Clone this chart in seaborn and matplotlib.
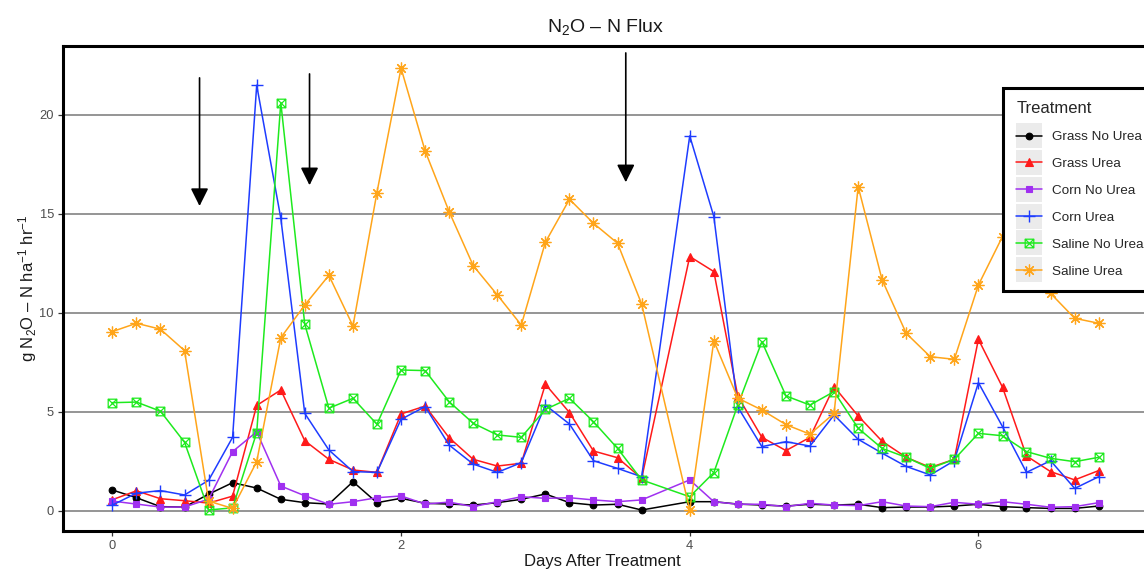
import matplotlib
matplotlib.use("Agg")
import matplotlib.pyplot as plt
import seaborn as sns
import numpy as np
from matplotlib.path import Path
from matplotlib.legend_handler import HandlerLine2D
from matplotlib.patches import Rectangle

# ---------------- data ----------------
days = [0.0, 0.167, 0.333, 0.5, 0.667, 0.833, 1.0, 1.167, 1.333, 1.5, 1.667, 1.833,
        2.0, 2.167, 2.333, 2.5, 2.667, 2.833, 3.0, 3.167, 3.333, 3.5, 3.667,
        4.0, 4.167, 4.333, 4.5, 4.667, 4.833, 5.0, 5.167, 5.333, 5.5, 5.667, 5.833,
        6.0, 6.167, 6.333, 6.5, 6.667, 6.833]

grass_no_urea = [1.06, 0.67, 0.22, 0.20, 0.85, 1.43, 1.16, 0.59, 0.42, 0.35, 1.48, 0.42,
                 0.64, 0.39, 0.35, 0.30, 0.42, 0.59, 0.86, 0.42, 0.30, 0.34, 0.05,
                 0.47, 0.47, 0.35, 0.30, 0.25, 0.34, 0.30, 0.34, 0.17, 0.20, 0.20, 0.25,
                 0.34, 0.22, 0.17, 0.13, 0.13, 0.25]
grass_urea = [0.57, 1.02, 0.62, 0.52, 0.40, 0.75, 5.33, 6.11, 3.55, 2.61, 2.07, 1.95,
              4.90, 5.30, 3.70, 2.61, 2.27, 2.41, 6.40, 4.97, 3.03, 2.69, 1.65,
              12.85, 12.09, 5.80, 3.72, 3.05, 3.72, 6.28, 4.80, 3.52, 2.71, 2.20, 2.61,
              8.67, 6.25, 2.78, 1.99, 1.57, 2.04]
corn_no_urea = [0.50, 0.35, 0.20, 0.20, 0.60, 3.00, 4.00, 1.26, 0.77, 0.34, 0.47, 0.67,
                0.76, 0.35, 0.45, 0.22, 0.47, 0.72, 0.64, 0.67, 0.56, 0.47, 0.56,
                1.57, 0.47, 0.34, 0.34, 0.22, 0.39, 0.30, 0.27, 0.47, 0.25, 0.22, 0.44,
                0.34, 0.47, 0.34, 0.19, 0.22, 0.42]
corn_urea = [0.30, 0.90, 1.03, 0.81, 1.55, 3.72, 21.50, 14.78, 4.93, 3.08, 1.99, 1.95,
             4.63, 5.27, 3.33, 2.37, 1.95, 2.44, 5.35, 4.39, 2.54, 2.15, 1.73,
             18.94, 14.87, 5.25, 3.25, 3.50, 3.28, 4.85, 3.62, 2.92, 2.25, 1.82, 2.54,
             6.48, 4.26, 1.95, 2.54, 1.14, 1.73]
saline_no_urea = [5.47, 5.50, 5.04, 3.47, 0.05, 0.16, 3.96, 20.62, 9.43, 5.19, 5.69, 4.38,
                  7.12, 7.09, 5.52, 4.43, 3.84, 3.72, 5.13, 5.69, 4.51, 3.16, 1.57,
                  0.72, 1.94, 5.35, 8.55, 5.81, 5.35, 6.03, 4.18, 3.16, 2.71, 2.15, 2.61,
                  3.92, 3.80, 3.00, 2.66, 2.49, 2.71]
saline_urea = [9.06, 9.48, 9.18, 8.10, 0.50, 0.13, 2.49, 8.75, 10.40, 11.90, 9.34, 16.08,
               22.36, 18.18, 15.12, 12.39, 10.91, 9.39, 13.57, 15.74, 14.53, 13.52, 10.45,
               0.05, 8.59, 5.70, 5.10, 4.36, 3.88, 4.93, 16.38, 11.67, 8.97, 7.79, 7.66,
               11.41, 13.86, 12.60, 10.99, 9.73, 9.48]

treatments = ["Grass No Urea", "Grass Urea", "Corn No Urea", "Corn Urea",
              "Saline No Urea", "Saline Urea"]
series = [grass_no_urea, grass_urea, corn_no_urea, corn_urea, saline_no_urea, saline_urea]

# application arrows (day, y start, y tip)
arrow_days = [0.604, 1.366, 3.557]
arrow_top = [21.87, 22.07, 23.13]
arrow_tip = [15.40, 16.45, 16.60]

x_ticks = [0, 2, 4, 6]
y_ticks = [0, 5, 10, 15, 20]

# ---------------- style ----------------
sns.set_theme(style="white")
plt.rcParams["font.family"] = ["Liberation Sans", "DejaVu Sans"]
plt.rcParams["mathtext.fontset"] = "custom"
plt.rcParams["mathtext.rm"] = "Liberation Sans"
plt.rcParams["mathtext.it"] = "Liberation Sans:italic"
plt.rcParams["mathtext.bf"] = "Liberation Sans:bold"

colors = ["#000000", "#FF1A1A", "#A030F0", "#1E3CFF", "#1EEA1E", "#FFA51A"]

sq_x = Path([(-1, -1), (1, -1), (1, 1), (-1, 1), (-1, -1), (-1, -1), (1, 1), (-1, 1), (1, -1)],
            [Path.MOVETO, Path.LINETO, Path.LINETO, Path.LINETO, Path.CLOSEPOLY,
             Path.MOVETO, Path.LINETO, Path.MOVETO, Path.LINETO])
marker_specs = [
    dict(marker="o", markersize=4.8, mfc=None, mew=0.8),
    dict(marker="^", markersize=5.8, mfc=None, mew=0.8),
    dict(marker="s", markersize=4.4, mfc=None, mew=0.8),
    dict(marker="+", markersize=8.5, mfc=None, mew=1.0),
    dict(marker=sq_x, markersize=6.2, mfc="none", mew=0.9),
    dict(marker=(8, 2, 0), markersize=8.5, mfc=None, mew=0.9),
]

W, H = 1144, 571
fig = plt.figure(figsize=(W / 100, H / 100), dpi=100)
ax = fig.add_axes([63 / W, (H - 531) / H, (1148 - 63) / W, (531 - 46) / H])

handles = []
for name, vals, col, ms in zip(treatments, series, colors, marker_specs):
    kw = dict(marker=ms["marker"], markersize=ms["markersize"],
              markeredgecolor=col, markeredgewidth=ms["mew"])
    if ms["mfc"] is not None:
        kw["markerfacecolor"] = ms["mfc"]
    sns.lineplot(x=days, y=vals, color=col, linewidth=1.1, ax=ax, label=name, **kw)
    handles.append(ax.lines[-1])

ax.set_xlim(-0.342, 7.175)
ax.set_ylim(-1.01, 23.48)
ax.set_xticks(x_ticks)
ax.set_yticks(y_ticks)
ax.yaxis.grid(True, color="#8C8C8C", linewidth=1.3)
ax.xaxis.grid(False)
ax.set_axisbelow(True)
for sp in ax.spines.values():
    sp.set_visible(True)
    sp.set_color("black")
    sp.set_linewidth(2.2)
ax.tick_params(axis="both", which="major", length=3.5, width=0.9, color="#333333",
               labelsize=9.3, labelcolor="#4D4D4D", pad=3, bottom=True, left=True)

for xd, y0, y1 in zip(arrow_days, arrow_top, arrow_tip):
    ax.annotate("", xy=(xd, y1), xytext=(xd, y0),
                arrowprops=dict(arrowstyle="-|>,head_length=0.6,head_width=0.3",
                                color="black", lw=1.2, shrinkA=0, shrinkB=0,
                                mutation_scale=18))

ax.set_title(r"N$_2$O – N Flux", fontsize=14, pad=10, color="#1a1a1a")
ax.set_xlabel("Days After Treatment", fontsize=12, color="#1a1a1a")
ax.set_ylabel(r"g N$_2$O – N ha$^{-1}$ hr$^{-1}$", fontsize=12, color="#1a1a1a")
ax.xaxis.set_label_coords(0.497, -0.048)
ax.yaxis.set_label_coords(-0.022, 0.5)


class KeyBG(HandlerLine2D):
    def create_artists(self, legend, orig_handle, xdescent, ydescent, width, height,
                       fontsize, trans):
        arts = super().create_artists(legend, orig_handle, xdescent, ydescent, width,
                                      height, fontsize, trans)
        h = 18.0
        cy = height / 2 - ydescent
        rect = Rectangle((-xdescent, cy - h / 2), width, h, facecolor="#EBEBEB",
                         edgecolor="none", transform=trans)
        return [rect] + list(arts)


leg = ax.legend(handles=handles, labels=treatments, title="Treatment",
                loc="upper left", bbox_to_anchor=(1003 / W, 1 - 88 / H),
                bbox_transform=fig.transFigure, borderaxespad=0, frameon=True,
                fancybox=False, edgecolor="black", prop={"size": 9.7},
                title_fontsize=12, handlelength=1.86, handletextpad=0.75,
                labelspacing=1.07, borderpad=1.0, numpoints=1, alignment="left",
                handler_map={h: KeyBG(numpoints=1) for h in handles})
leg.get_frame().set_linewidth(2.2)
leg.get_frame().set_alpha(1)

fig.savefig("out.png", dpi=100)
